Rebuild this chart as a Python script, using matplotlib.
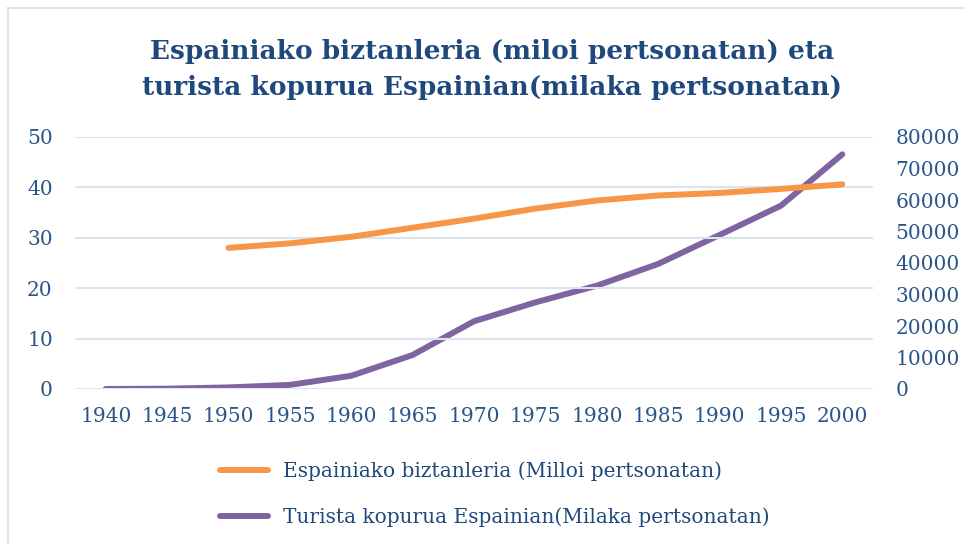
import matplotlib
matplotlib.use("Agg")
import matplotlib.pyplot as plt
from matplotlib.lines import Line2D
import numpy as np

years = [1940, 1945, 1950, 1955, 1960, 1965, 1970, 1975, 1980, 1985, 1990, 1995, 2000]
population = [np.nan, np.nan, 28.0, 28.9, 30.2, 32.0, 33.8, 35.8, 37.4, 38.4, 38.9, 39.7, 40.6]
tourists = [0, 100, 500, 1300, 4200, 10800, 21500, 27500, 32800, 39700, 48900, 58200, 74500]

label_pop = "Espainiako biztanleria (Milloi pertsonatan)"
label_tour = "Turista kopurua Espainian(Milaka pertsonatan)"
title = "Espainiako biztanleria (miloi pertsonatan) eta\nturista kopurua Espainian(milaka pertsonatan)"

ORANGE = "#F79646"
PURPLE = "#8064A2"
TEXT = "#1F497D"
TICK = "#2A5589"
GRID = "#D9E4F1"
FONT = ["DejaVu Serif"]

W, H = 965, 544
fig = plt.figure(figsize=(W / 100, H / 100), dpi=100)
fig.patch.set_facecolor("white")

# chart-area border
fig.add_artist(Line2D([8 / W, 1], [1 - 8 / H, 1 - 8 / H], color=GRID, lw=1.5))
fig.add_artist(Line2D([8 / W, 8 / W], [0, 1 - 8 / H], color=GRID, lw=1.5))

left, right, top, bottom = 75, 873, 137, 389
ax = fig.add_axes([left / W, 1 - bottom / H, (right - left) / W, (bottom - top) / H])
ax2 = ax.twinx()

x = np.arange(len(years))
l1, = ax.plot(x, population, color=ORANGE, lw=4.3, solid_capstyle="round",
              solid_joinstyle="round", label=label_pop, zorder=3)
l2, = ax2.plot(x, tourists, color=PURPLE, lw=4.3, solid_capstyle="round",
               solid_joinstyle="round", label=label_tour, zorder=3)

ax.set_xlim(-0.5, len(years) - 0.5)
ax.set_ylim(0, 50)
ax2.set_ylim(0, 80000)
ax.set_yticks(range(0, 51, 10))
ax2.set_yticks(range(0, 80001, 10000))
ax.set_xticks(x)
ax.set_xticklabels([str(y) for y in years])

for a in (ax, ax2):
    for s in a.spines.values():
        s.set_visible(False)
    a.tick_params(length=0, labelsize=14.5, labelcolor=TICK)
    for lab in a.get_xticklabels() + a.get_yticklabels():
        lab.set_family(FONT)
ax.tick_params(axis="y", pad=16)
ax2.tick_params(axis="y", pad=16)
ax.tick_params(axis="x", pad=13)
ax.grid(axis="y", color=GRID, lw=1.5)
ax.set_axisbelow(True)
ax.set_zorder(ax2.get_zorder() + 1)
ax.patch.set_visible(False)

fig.text(492 / W, 1 - 69 / H, title, ha="center", va="center", fontsize=19,
         fontweight="bold", color=TEXT, family=FONT, linespacing=1.55)

leg = fig.legend([l1, l2], [label_pop, label_tour], loc="upper left",
                 bbox_to_anchor=(202 / W, 1 - 443 / H), frameon=False,
                 handlelength=2.4, handletextpad=0.7, labelspacing=1.3,
                 prop={"family": FONT, "size": 14.5})
for t in leg.get_texts():
    t.set_color(TEXT)

fig.savefig("out.png", dpi=100)
